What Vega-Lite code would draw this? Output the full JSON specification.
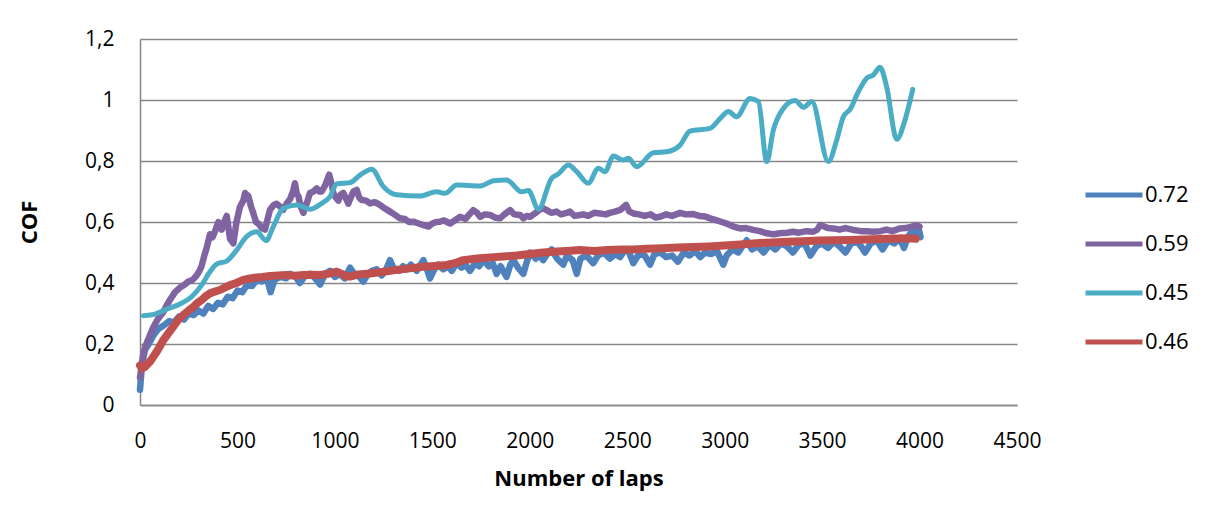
{
  "$schema": "https://vega.github.io/schema/vega-lite/v6.json",
  "width": 877,
  "height": 366,
  "autosize": {"type": "none"},
  "padding": {"left": 140, "top": 39, "right": 191, "bottom": 117},
  "background": "white",
  "config": {
    "view": {"stroke": null},
    "font": "Open Sans",
    "axis": {"labelFont": "Open Sans", "titleFont": "Open Sans", "labelColor": "#000000", "titleColor": "#000000", "domainColor": "#868686", "domainWidth": 1.5, "gridColor": "#868686", "gridWidth": 1.5, "ticks": false, "tickSize": 0, "labelFontSize": 21, "titleFontSize": 22, "titleFontWeight": "bold", "labelFlush": false},
    "legend": {"labelFont": "Open Sans", "labelFontSize": 22, "labelColor": "#000000"}
  },
  "datasets": {
    "blue": [
      {"laps":0,"cof":0.05},{"laps":10,"cof":0.13},{"laps":25,"cof":0.18},{"laps":45,"cof":0.2},{"laps":70,"cof":0.23},{"laps":95,"cof":0.25},{"laps":120,"cof":0.26},{"laps":150,"cof":0.275},{"laps":175,"cof":0.27},{"laps":200,"cof":0.29},{"laps":225,"cof":0.28},{"laps":250,"cof":0.3},{"laps":275,"cof":0.295},{"laps":300,"cof":0.31},{"laps":325,"cof":0.3},{"laps":350,"cof":0.325},{"laps":375,"cof":0.315},{"laps":400,"cof":0.335},{"laps":425,"cof":0.33},{"laps":450,"cof":0.355},{"laps":475,"cof":0.35},{"laps":500,"cof":0.375},{"laps":525,"cof":0.37},{"laps":550,"cof":0.395},{"laps":575,"cof":0.39},{"laps":600,"cof":0.41},{"laps":625,"cof":0.405},{"laps":650,"cof":0.42},{"laps":670,"cof":0.37},{"laps":690,"cof":0.41},{"laps":720,"cof":0.42},{"laps":750,"cof":0.415},{"laps":770,"cof":0.43},{"laps":800,"cof":0.42},{"laps":820,"cof":0.4},{"laps":850,"cof":0.425},{"laps":872,"cof":0.43},{"laps":900,"cof":0.415},{"laps":924,"cof":0.395},{"laps":950,"cof":0.43},{"laps":975,"cof":0.44},{"laps":1000,"cof":0.42},{"laps":1025,"cof":0.43},{"laps":1050,"cof":0.415},{"laps":1078,"cof":0.45},{"laps":1100,"cof":0.43},{"laps":1125,"cof":0.42},{"laps":1146,"cof":0.405},{"laps":1170,"cof":0.43},{"laps":1190,"cof":0.44},{"laps":1214,"cof":0.445},{"laps":1240,"cof":0.425},{"laps":1260,"cof":0.44},{"laps":1283,"cof":0.475},{"laps":1300,"cof":0.45},{"laps":1330,"cof":0.44},{"laps":1350,"cof":0.455},{"laps":1368,"cof":0.445},{"laps":1390,"cof":0.46},{"laps":1420,"cof":0.44},{"laps":1454,"cof":0.475},{"laps":1470,"cof":0.45},{"laps":1488,"cof":0.415},{"laps":1510,"cof":0.445},{"laps":1530,"cof":0.46},{"laps":1556,"cof":0.445},{"laps":1580,"cof":0.455},{"laps":1600,"cof":0.44},{"laps":1625,"cof":0.465},{"laps":1650,"cof":0.45},{"laps":1670,"cof":0.46},{"laps":1693,"cof":0.44},{"laps":1720,"cof":0.465},{"laps":1740,"cof":0.455},{"laps":1762,"cof":0.475},{"laps":1790,"cof":0.455},{"laps":1810,"cof":0.465},{"laps":1830,"cof":0.43},{"laps":1850,"cof":0.455},{"laps":1881,"cof":0.42},{"laps":1900,"cof":0.46},{"laps":1916,"cof":0.475},{"laps":1940,"cof":0.45},{"laps":1967,"cof":0.43},{"laps":1985,"cof":0.47},{"laps":2001,"cof":0.5},{"laps":2030,"cof":0.48},{"laps":2050,"cof":0.49},{"laps":2069,"cof":0.475},{"laps":2090,"cof":0.495},{"laps":2112,"cof":0.51},{"laps":2140,"cof":0.48},{"laps":2172,"cof":0.46},{"laps":2190,"cof":0.49},{"laps":2220,"cof":0.475},{"laps":2241,"cof":0.43},{"laps":2260,"cof":0.48},{"laps":2290,"cof":0.49},{"laps":2326,"cof":0.465},{"laps":2350,"cof":0.49},{"laps":2380,"cof":0.5},{"laps":2410,"cof":0.48},{"laps":2440,"cof":0.495},{"laps":2463,"cof":0.485},{"laps":2490,"cof":0.51},{"laps":2510,"cof":0.5},{"laps":2531,"cof":0.465},{"laps":2560,"cof":0.495},{"laps":2590,"cof":0.49},{"laps":2617,"cof":0.46},{"laps":2640,"cof":0.495},{"laps":2670,"cof":0.5},{"laps":2700,"cof":0.485},{"laps":2730,"cof":0.49},{"laps":2760,"cof":0.47},{"laps":2790,"cof":0.5},{"laps":2820,"cof":0.49},{"laps":2850,"cof":0.505},{"laps":2874,"cof":0.485},{"laps":2900,"cof":0.5},{"laps":2930,"cof":0.495},{"laps":2960,"cof":0.505},{"laps":2993,"cof":0.46},{"laps":3010,"cof":0.49},{"laps":3040,"cof":0.51},{"laps":3070,"cof":0.5},{"laps":3090,"cof":0.52},{"laps":3113,"cof":0.54},{"laps":3140,"cof":0.51},{"laps":3170,"cof":0.52},{"laps":3200,"cof":0.5},{"laps":3230,"cof":0.525},{"laps":3260,"cof":0.51},{"laps":3290,"cof":0.53},{"laps":3320,"cof":0.52},{"laps":3350,"cof":0.5},{"laps":3380,"cof":0.525},{"laps":3410,"cof":0.53},{"laps":3440,"cof":0.49},{"laps":3470,"cof":0.52},{"laps":3500,"cof":0.53},{"laps":3530,"cof":0.515},{"laps":3560,"cof":0.535},{"laps":3590,"cof":0.52},{"laps":3620,"cof":0.5},{"laps":3650,"cof":0.53},{"laps":3680,"cof":0.535},{"laps":3700,"cof":0.52},{"laps":3720,"cof":0.5},{"laps":3750,"cof":0.53},{"laps":3780,"cof":0.54},{"laps":3810,"cof":0.51},{"laps":3840,"cof":0.54},{"laps":3870,"cof":0.53},{"laps":3900,"cof":0.545},{"laps":3920,"cof":0.515},{"laps":3940,"cof":0.55},{"laps":3960,"cof":0.57},{"laps":3980,"cof":0.56},{"laps":3995,"cof":0.58},{"laps":4005,"cof":0.55}
    ],
    "purple": [
      {"laps":0,"cof":0.09},{"laps":15,"cof":0.16},{"laps":26,"cof":0.19},{"laps":45,"cof":0.22},{"laps":68,"cof":0.255},{"laps":90,"cof":0.28},{"laps":120,"cof":0.305},{"laps":140,"cof":0.33},{"laps":154,"cof":0.345},{"laps":180,"cof":0.37},{"laps":205,"cof":0.385},{"laps":230,"cof":0.395},{"laps":248,"cof":0.405},{"laps":270,"cof":0.41},{"laps":291,"cof":0.425},{"laps":305,"cof":0.44},{"laps":316,"cof":0.455},{"laps":330,"cof":0.49},{"laps":342,"cof":0.515},{"laps":359,"cof":0.56},{"laps":372,"cof":0.55},{"laps":385,"cof":0.57},{"laps":402,"cof":0.6},{"laps":419,"cof":0.575},{"laps":432,"cof":0.6},{"laps":445,"cof":0.62},{"laps":462,"cof":0.545},{"laps":479,"cof":0.53},{"laps":495,"cof":0.6},{"laps":513,"cof":0.65},{"laps":530,"cof":0.67},{"laps":539,"cof":0.695},{"laps":556,"cof":0.685},{"laps":570,"cof":0.65},{"laps":581,"cof":0.63},{"laps":595,"cof":0.6},{"laps":607,"cof":0.595},{"laps":625,"cof":0.58},{"laps":641,"cof":0.575},{"laps":655,"cof":0.61},{"laps":667,"cof":0.64},{"laps":685,"cof":0.655},{"laps":701,"cof":0.66},{"laps":720,"cof":0.65},{"laps":735,"cof":0.64},{"laps":752,"cof":0.66},{"laps":770,"cof":0.675},{"laps":785,"cof":0.7},{"laps":795,"cof":0.727},{"laps":805,"cof":0.69},{"laps":813,"cof":0.685},{"laps":825,"cof":0.65},{"laps":838,"cof":0.63},{"laps":855,"cof":0.66},{"laps":872,"cof":0.695},{"laps":890,"cof":0.7},{"laps":907,"cof":0.71},{"laps":920,"cof":0.7},{"laps":932,"cof":0.7},{"laps":950,"cof":0.72},{"laps":971,"cof":0.755},{"laps":985,"cof":0.72},{"laps":992,"cof":0.695},{"laps":1005,"cof":0.68},{"laps":1018,"cof":0.67},{"laps":1030,"cof":0.69},{"laps":1043,"cof":0.695},{"laps":1055,"cof":0.68},{"laps":1069,"cof":0.66},{"laps":1078,"cof":0.675},{"laps":1095,"cof":0.7},{"laps":1112,"cof":0.705},{"laps":1125,"cof":0.68},{"laps":1138,"cof":0.672},{"laps":1160,"cof":0.67},{"laps":1180,"cof":0.661},{"laps":1205,"cof":0.665},{"laps":1231,"cof":0.656},{"laps":1255,"cof":0.645},{"laps":1283,"cof":0.634},{"laps":1305,"cof":0.625},{"laps":1334,"cof":0.612},{"laps":1360,"cof":0.61},{"laps":1380,"cof":0.6},{"laps":1402,"cof":0.601},{"laps":1430,"cof":0.595},{"laps":1455,"cof":0.59},{"laps":1480,"cof":0.585},{"laps":1500,"cof":0.595},{"laps":1520,"cof":0.6},{"laps":1539,"cof":0.601},{"laps":1560,"cof":0.605},{"laps":1591,"cof":0.595},{"laps":1615,"cof":0.605},{"laps":1642,"cof":0.617},{"laps":1670,"cof":0.61},{"laps":1690,"cof":0.625},{"laps":1710,"cof":0.639},{"laps":1730,"cof":0.63},{"laps":1745,"cof":0.617},{"laps":1770,"cof":0.625},{"laps":1796,"cof":0.623},{"laps":1820,"cof":0.615},{"laps":1847,"cof":0.612},{"laps":1870,"cof":0.625},{"laps":1899,"cof":0.639},{"laps":1920,"cof":0.625},{"laps":1950,"cof":0.623},{"laps":1967,"cof":0.612},{"laps":1985,"cof":0.62},{"laps":2001,"cof":0.617},{"laps":2030,"cof":0.63},{"laps":2050,"cof":0.64},{"laps":2069,"cof":0.645},{"laps":2087,"cof":0.639},{"laps":2110,"cof":0.63},{"laps":2138,"cof":0.634},{"laps":2160,"cof":0.625},{"laps":2189,"cof":0.63},{"laps":2206,"cof":0.634},{"laps":2230,"cof":0.62},{"laps":2258,"cof":0.623},{"laps":2275,"cof":0.625},{"laps":2300,"cof":0.62},{"laps":2330,"cof":0.63},{"laps":2360,"cof":0.628},{"laps":2390,"cof":0.625},{"laps":2410,"cof":0.63},{"laps":2437,"cof":0.634},{"laps":2465,"cof":0.64},{"laps":2494,"cof":0.656},{"laps":2510,"cof":0.635},{"laps":2531,"cof":0.628},{"laps":2560,"cof":0.625},{"laps":2590,"cof":0.62},{"laps":2620,"cof":0.625},{"laps":2645,"cof":0.615},{"laps":2668,"cof":0.617},{"laps":2700,"cof":0.625},{"laps":2730,"cof":0.62},{"laps":2771,"cof":0.63},{"laps":2800,"cof":0.625},{"laps":2839,"cof":0.626},{"laps":2870,"cof":0.62},{"laps":2900,"cof":0.618},{"laps":2925,"cof":0.612},{"laps":2960,"cof":0.605},{"laps":2985,"cof":0.6},{"laps":3010,"cof":0.595},{"laps":3045,"cof":0.585},{"laps":3079,"cof":0.579},{"laps":3110,"cof":0.58},{"laps":3147,"cof":0.574},{"laps":3180,"cof":0.57},{"laps":3216,"cof":0.563},{"laps":3250,"cof":0.56},{"laps":3284,"cof":0.563},{"laps":3320,"cof":0.565},{"laps":3352,"cof":0.568},{"laps":3380,"cof":0.565},{"laps":3420,"cof":0.57},{"laps":3455,"cof":0.568},{"laps":3475,"cof":0.575},{"laps":3490,"cof":0.59},{"laps":3510,"cof":0.585},{"laps":3530,"cof":0.58},{"laps":3557,"cof":0.579},{"laps":3590,"cof":0.575},{"laps":3620,"cof":0.58},{"laps":3660,"cof":0.574},{"laps":3700,"cof":0.57},{"laps":3730,"cof":0.57},{"laps":3763,"cof":0.568},{"laps":3800,"cof":0.57},{"laps":3830,"cof":0.575},{"laps":3860,"cof":0.57},{"laps":3900,"cof":0.579},{"laps":3930,"cof":0.58},{"laps":3960,"cof":0.585},{"laps":3985,"cof":0.59},{"laps":4000,"cof":0.585}
    ],
    "cyan": [
      {"laps":17,"cof":0.293},{"laps":77,"cof":0.298},{"laps":137,"cof":0.314},{"laps":205,"cof":0.331},{"laps":265,"cof":0.355},{"laps":316,"cof":0.393},{"laps":359,"cof":0.437},{"laps":393,"cof":0.462},{"laps":445,"cof":0.472},{"laps":496,"cof":0.508},{"laps":547,"cof":0.552},{"laps":599,"cof":0.568},{"laps":647,"cof":0.539},{"laps":684,"cof":0.585},{"laps":735,"cof":0.645},{"laps":804,"cof":0.656},{"laps":872,"cof":0.642},{"laps":932,"cof":0.661},{"laps":975,"cof":0.683},{"laps":1009,"cof":0.725},{"laps":1078,"cof":0.729},{"laps":1129,"cof":0.754},{"laps":1189,"cof":0.773},{"laps":1249,"cof":0.716},{"laps":1317,"cof":0.689},{"laps":1437,"cof":0.685},{"laps":1522,"cof":0.699},{"laps":1565,"cof":0.694},{"laps":1625,"cof":0.721},{"laps":1745,"cof":0.718},{"laps":1813,"cof":0.735},{"laps":1881,"cof":0.738},{"laps":1958,"cof":0.699},{"laps":1993,"cof":0.703},{"laps":2044,"cof":0.642},{"laps":2112,"cof":0.743},{"laps":2146,"cof":0.757},{"laps":2198,"cof":0.787},{"laps":2241,"cof":0.765},{"laps":2300,"cof":0.727},{"laps":2352,"cof":0.776},{"laps":2386,"cof":0.765},{"laps":2429,"cof":0.816},{"laps":2480,"cof":0.803},{"laps":2506,"cof":0.809},{"laps":2548,"cof":0.781},{"laps":2634,"cof":0.827},{"laps":2702,"cof":0.83},{"laps":2771,"cof":0.852},{"laps":2822,"cof":0.898},{"laps":2925,"cof":0.907},{"laps":2985,"cof":0.945},{"laps":3019,"cof":0.962},{"laps":3061,"cof":0.945},{"laps":3130,"cof":1.005},{"laps":3173,"cof":0.995},{"laps":3216,"cof":0.798},{"laps":3250,"cof":0.902},{"laps":3301,"cof":0.972},{"laps":3361,"cof":0.998},{"laps":3404,"cof":0.976},{"laps":3447,"cof":0.995},{"laps":3532,"cof":0.798},{"laps":3575,"cof":0.869},{"laps":3609,"cof":0.945},{"laps":3643,"cof":0.969},{"laps":3686,"cof":1.027},{"laps":3729,"cof":1.071},{"laps":3763,"cof":1.082},{"laps":3797,"cof":1.107},{"laps":3831,"cof":1.044},{"laps":3883,"cof":0.871},{"laps":3925,"cof":0.934},{"laps":3965,"cof":1.035}
    ],
    "red": [
      {"laps":0,"cof":0.13},{"laps":10,"cof":0.12},{"laps":25,"cof":0.125},{"laps":40,"cof":0.135},{"laps":51,"cof":0.142},{"laps":70,"cof":0.16},{"laps":86,"cof":0.175},{"laps":100,"cof":0.19},{"laps":120,"cof":0.213},{"laps":145,"cof":0.235},{"laps":171,"cof":0.257},{"laps":195,"cof":0.278},{"laps":222,"cof":0.295},{"laps":250,"cof":0.31},{"laps":274,"cof":0.322},{"laps":295,"cof":0.335},{"laps":316,"cof":0.344},{"laps":340,"cof":0.358},{"laps":359,"cof":0.366},{"laps":385,"cof":0.372},{"laps":410,"cof":0.377},{"laps":435,"cof":0.385},{"laps":462,"cof":0.393},{"laps":495,"cof":0.4},{"laps":530,"cof":0.41},{"laps":565,"cof":0.415},{"laps":599,"cof":0.418},{"laps":630,"cof":0.42},{"laps":667,"cof":0.423},{"laps":710,"cof":0.425},{"laps":753,"cof":0.426},{"laps":795,"cof":0.424},{"laps":838,"cof":0.426},{"laps":880,"cof":0.427},{"laps":924,"cof":0.426},{"laps":965,"cof":0.43},{"laps":1009,"cof":0.437},{"laps":1035,"cof":0.43},{"laps":1060,"cof":0.421},{"laps":1078,"cof":0.421},{"laps":1120,"cof":0.428},{"laps":1180,"cof":0.431},{"laps":1250,"cof":0.437},{"laps":1317,"cof":0.443},{"laps":1385,"cof":0.448},{"laps":1454,"cof":0.453},{"laps":1515,"cof":0.456},{"laps":1574,"cof":0.459},{"laps":1615,"cof":0.465},{"laps":1659,"cof":0.475},{"laps":1730,"cof":0.48},{"laps":1796,"cof":0.484},{"laps":1865,"cof":0.487},{"laps":1933,"cof":0.49},{"laps":2000,"cof":0.495},{"laps":2069,"cof":0.5},{"laps":2140,"cof":0.503},{"laps":2206,"cof":0.506},{"laps":2258,"cof":0.508},{"laps":2330,"cof":0.505},{"laps":2400,"cof":0.508},{"laps":2470,"cof":0.51},{"laps":2531,"cof":0.51},{"laps":2600,"cof":0.512},{"laps":2680,"cof":0.514},{"laps":2760,"cof":0.516},{"laps":2840,"cof":0.518},{"laps":2920,"cof":0.52},{"laps":3000,"cof":0.523},{"laps":3080,"cof":0.526},{"laps":3160,"cof":0.53},{"laps":3240,"cof":0.533},{"laps":3320,"cof":0.535},{"laps":3400,"cof":0.537},{"laps":3480,"cof":0.539},{"laps":3560,"cof":0.54},{"laps":3640,"cof":0.541},{"laps":3720,"cof":0.543},{"laps":3800,"cof":0.544},{"laps":3880,"cof":0.546},{"laps":3950,"cof":0.547},{"laps":3980,"cof":0.545}
    ]
  },
  "encoding": {
    "x": {"field": "laps", "type": "quantitative", "scale": {"domain": [0, 4500], "nice": false}, "axis": {"values": [0,500,1000,1500,2000,2500,3000,3500,4000,4500], "format": "d", "grid": false, "labelPadding": 25, "title": "Number of laps", "titlePadding": 17}},
    "y": {"field": "cof", "type": "quantitative", "scale": {"domain": [0, 1.2], "nice": false}, "axis": {"values": [0,0.2,0.4,0.6,0.8,1,1.2], "labelExpr": "replace(format(datum.value, '.1~f'), '.', ',')", "grid": true, "labelPadding": 26, "title": "COF", "titlePadding": 43}},
    "color": {"scale": {"domain": ["0.72","0.59","0.45","0.46"], "range": ["#4F81BD","#8064A2","#4BACC6","#C0504D"]}, "legend": {"title": null, "orient": "none", "legendX": 943, "legendY": 125, "symbolType": "stroke", "symbolSize": 3249, "symbolStrokeWidth": 5, "labelOffset": 0, "rowPadding": 7, "padding": 0}}
  },
  "layer": [
    {"data": {"name": "blue"}, "mark": {"type": "line", "strokeWidth": 6.5, "strokeJoin": "round", "strokeCap": "round"}, "encoding": {"color": {"datum": "0.72"}}},
    {"data": {"name": "purple"}, "mark": {"type": "line", "strokeWidth": 6.5, "strokeJoin": "round", "strokeCap": "round"}, "encoding": {"color": {"datum": "0.59"}}},
    {"data": {"name": "cyan"}, "mark": {"type": "line", "strokeWidth": 5, "strokeJoin": "round", "strokeCap": "round", "interpolate": "monotone"}, "encoding": {"color": {"datum": "0.45"}}},
    {"data": {"name": "red"}, "mark": {"type": "line", "strokeWidth": 8, "strokeJoin": "round", "strokeCap": "round"}, "encoding": {"color": {"datum": "0.46"}}}
  ]
}
